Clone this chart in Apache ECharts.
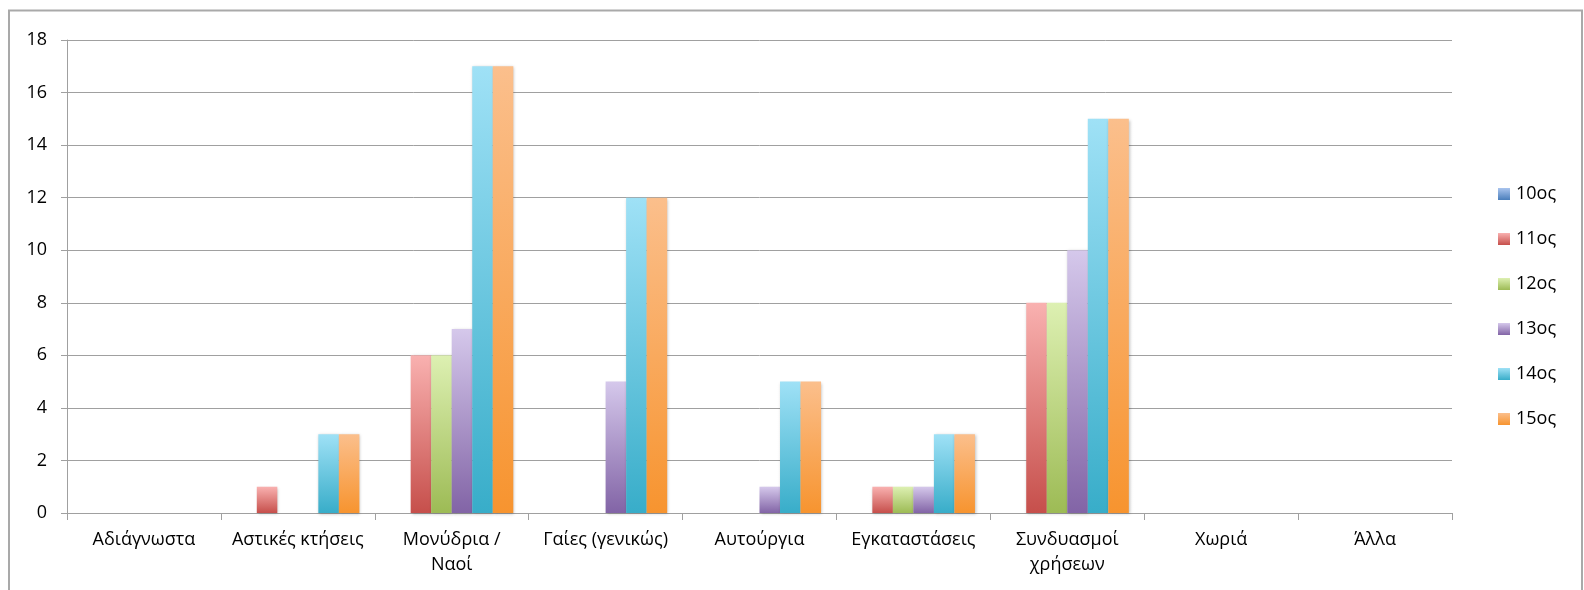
<!DOCTYPE html>
<html>
<head>
<meta charset="utf-8">
<script src="https://cdn.jsdelivr.net/npm/echarts@6/dist/echarts.min.js"></script>
<style>
	html, body { margin: 0; padding: 0; background: #fff; }
	#chart { width: 1584px; height: 590px; }
</style>
</head>
<body>
<div id="chart"></div>
<script>
// Categories (line breaks as in the original chart)
var categories = ['Αδιάγνωστα', 'Αστικές κτήσεις', 'Μονύδρια /\nΝαοί', 'Γαίες (γενικώς)', 'Αυτούργια', 'Εγκαταστάσεις', 'Συνδυασμοί\nχρήσεων', 'Χωριά', 'Άλλα']

// Series values per century
var seriesNames = ['10ος', '11ος', '12ος', '13ος', '14ος', '15ος']
var c10 = [0, 0, 0, 0, 0, 0, 0, 0, 0]
var c11 = [0, 1, 6, 0, 0, 1, 8, 0, 0]
var c12 = [0, 0, 6, 0, 0, 1, 8, 0, 0]
var c13 = [0, 0, 7, 5, 1, 1, 10, 0, 0]
var c14 = [0, 3, 17, 12, 5, 3, 15, 0, 0]
var c15 = [0, 3, 17, 12, 5, 3, 15, 0, 0]
var seriesValues = [c10, c11, c12, c13, c14, c15]

// Gradient colours (top, bottom)
var topColors = ['#a9c4ee', '#f9b1b0', '#ddf0b2', '#d5c8eb', '#9fe1f6', '#fbbf8c']
var bottomColors = ['#4a7ebb', '#c64f4b', '#9dbb55', '#8264a6', '#38adc9', '#f7942f']

var fontFamily = '"Open Sans", "Noto Sans", sans-serif'

var chart = echarts.init(document.getElementById('chart'))

var series = seriesNames.map((name, i) => {
	return {
		name: name,
		type: 'bar',
		barGap: 0,
		barCategoryGap: '20%',
		data: seriesValues[i],
		itemStyle: {
			color: new echarts.graphic.LinearGradient(0, 0, 0, 1, [
				{ offset: 0, color: topColors[i] },
				{ offset: 1, color: bottomColors[i] },
			]),
			shadowColor: 'rgba(0,0,0,0.25)',
			shadowBlur: 3,
			shadowOffsetX: 1,
			shadowOffsetY: 1,
		},
	}
})

var option = {
	animation: false,
	backgroundColor: '#fff',
	textStyle: { fontFamily: fontFamily },
	graphic: [
		{
			type: 'rect',
			shape: { x: 9, y: 10.5, width: 1573, height: 620 },
			style: { fill: 'none', stroke: '#a9a9a9', lineWidth: 2 },
			silent: true,
		},
	],
	grid: {
		left: 67,
		right: 132,
		top: 40,
		bottom: 77,
	},
	legend: {
		orient: 'vertical',
		left: 1493,
		top: 180,
		itemWidth: 12,
		itemHeight: 12,
		itemGap: 27,
		icon: 'rect',
		data: seriesNames,
		textStyle: { fontSize: 18, color: '#000', fontFamily: fontFamily, padding: [0, 0, 0, 1] },
	},
	xAxis: {
		type: 'category',
		data: categories,
		axisLine: { lineStyle: { color: '#a0a0a0', width: 1 } },
		axisTick: { show: true, length: 7, alignWithLabel: false, lineStyle: { color: '#a0a0a0' } },
		axisLabel: {
			color: '#000',
			fontSize: 18,
			fontFamily: fontFamily,
			margin: 14,
			lineHeight: 25,
			interval: 0,
		},
	},
	yAxis: {
		type: 'value',
		min: 0,
		max: 18,
		interval: 2,
		axisLine: { show: true, lineStyle: { color: '#a0a0a0', width: 1 } },
		axisTick: { show: true, length: 6, lineStyle: { color: '#a0a0a0' } },
		axisLabel: { color: '#000', fontSize: 18, fontFamily: fontFamily, margin: 20 },
		splitLine: { lineStyle: { color: '#a0a0a0', width: 1 } },
	},
	series: series,
}

chart.setOption(option)
</script>
</body>
</html>
